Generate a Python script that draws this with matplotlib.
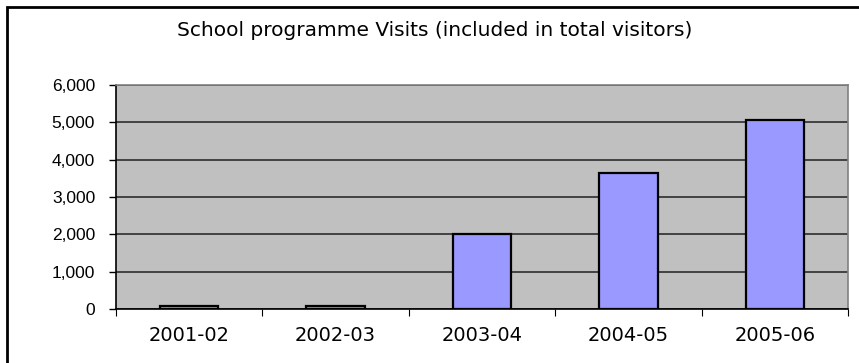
import matplotlib
matplotlib.use('Agg')

import numpy as np
import matplotlib.pyplot as plt
from matplotlib.patches import Rectangle
from matplotlib.ticker import FuncFormatter

# School programme visits per year
years = ['2001-02', '2002-03', '2003-04', '2004-05', '2005-06']
visits = [80, 80, 2010, 3650, 5070]
y_ticks = [0, 1000, 2000, 3000, 4000, 5000, 6000]

plt.rcParams['font.family'] = ['Liberation Sans', 'DejaVu Sans']

fig = plt.figure(figsize=(8.59, 3.63), dpi=100)
ax = fig.add_axes([116 / 859, 1 - 309 / 363, (848 - 116) / 859, (309 - 85) / 363])

# outer chart frame (runs off the right and bottom edges)
fig.patches.append(Rectangle((7 / 859, -0.1), 1.2, 1 - 7 / 363 + 0.1,
                             transform=fig.transFigure, fill=False,
                             edgecolor='black', linewidth=2.0))

x = np.arange(len(years))
ax.set_facecolor('#C0C0C0')
ax.bar(x, visits, width=0.4, color='#9999FF', edgecolor='black', linewidth=1.6, zorder=3)

ax.set_xlim(-0.5, len(years) - 0.5)
ax.set_ylim(0, 6000)
ax.set_yticks(y_ticks)
ax.yaxis.set_major_formatter(FuncFormatter(lambda v, p: f'{int(v):,}'))
ax.grid(axis='y', color='#202020', linewidth=1.1, zorder=1)

ax.set_xticks(x)
ax.set_xticklabels(years, family='DejaVu Sans', fontsize=14)
ax.set_xticks(np.arange(len(years) + 1) - 0.5, minor=True)
ax.tick_params(axis='x', which='major', length=0, pad=12)
ax.tick_params(axis='x', which='minor', length=5, width=0.8, direction='out')
ax.tick_params(axis='y', length=5, width=1, direction='out', pad=10, labelsize=12.5)

for side in ['top', 'right']:
    ax.spines[side].set_color('#808080')
    ax.spines[side].set_linewidth(1.2)
for side in ['left', 'bottom']:
    ax.spines[side].set_color('black')
    ax.spines[side].set_linewidth(1.2)

fig.text(435 / 859, 1 - 30 / 363, 'School programme Visits (included in total visitors)',
         ha='center', va='center', fontsize=14.5, family='DejaVu Sans')

fig.savefig('out.png', dpi=100)
